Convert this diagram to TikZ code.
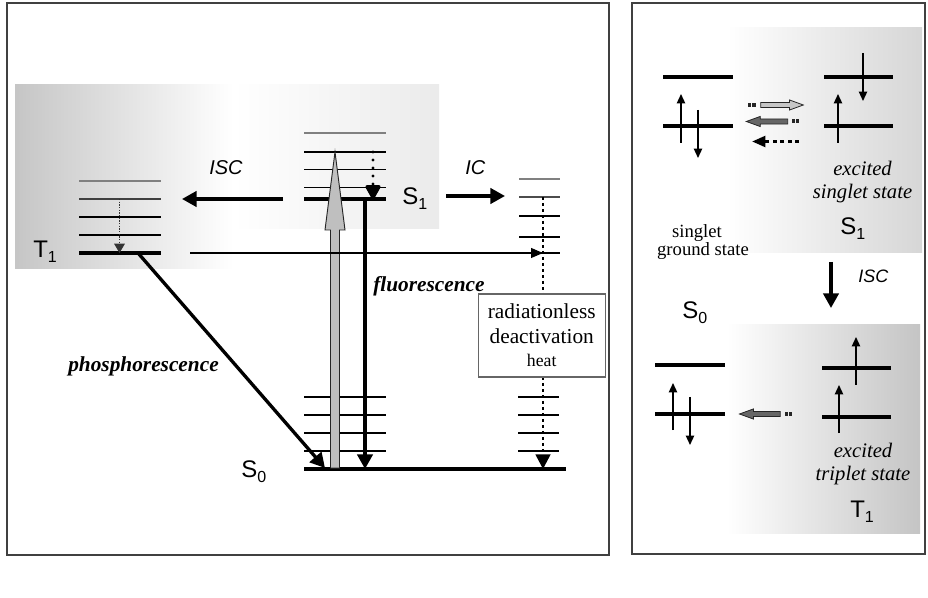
\documentclass[tikz,border=0pt]{standalone}
\usepackage{fontspec}
\setmainfont{Liberation Serif}
\setsansfont{Liberation Sans}
\usetikzlibrary{arrows.meta,shapes.arrows}
\newcommand{\lvsub}[1]{\raisebox{-3.75pt}{\fontsize{12}{12}\selectfont #1}}
\begin{document}
\begin{tikzpicture}[x=0.75pt,y=-0.75pt,
 lvthick/.style={line width=2.7pt},
 lvthin/.style={line width=0.8pt},
 lvgray/.style={line width=0.9pt,draw=gray},
 orb/.style={line width=2.8pt},
 frame/.style={line width=1pt,draw=black!75},
 bigarr/.style={line width=2.5pt,-{Triangle[length=11pt,width=11.5pt]}},
 thinarr/.style={line width=0.8pt,-{Triangle[length=9pt,width=7.5pt]}},
 spin/.style={line width=1.1pt,-{Triangle[length=7pt,width=6.2pt]}},
 lvlabel/.style={font=\sffamily\fontsize{18}{20}\selectfont,inner sep=0pt,anchor=base west},
 proc/.style={font=\sffamily\itshape\fontsize{15}{17}\selectfont,inner sep=0pt,anchor=base west},
 emis/.style={font=\bfseries\itshape\fontsize{16}{18}\selectfont,inner sep=0pt,anchor=base west},
 desc/.style={font=\itshape\fontsize{15.5}{18}\selectfont,inner sep=0pt,anchor=base},
 descr/.style={font=\fontsize{14}{16}\selectfont,inner sep=0pt,anchor=base},
 midarr/.style={single arrow,draw=black!85,line width=0.6pt,inner sep=1.6pt,
   single arrow head extend=1.9pt,single arrow tip angle=40,minimum height=31pt},
 tailbit/.style={fill=black!85},
]
\useasboundingbox (0,0) rectangle (928,598);

% ---------- shadings ----------
\path[left color=gray!45,right color=white] (15,85) rectangle (233,269);
\path[left color=white,right color=gray!16] (233,85) rectangle (439,229);
\path[left color=white,right color=gray!32] (727,28) rectangle (922,253);
\path[left color=white,right color=gray!46] (727,325) rectangle (920,533);

% ---------- frames ----------
\draw[frame] (7,3) rectangle (609,555);
\draw[frame] (632,3) rectangle (925,554);

% ---------- left panel levels ----------
% T1 stack
\draw[lvgray] (79,181) -- (161,181);
\draw[lvthin,draw=black!75] (79,199) -- (161,199);
\draw[lvthin] (79,217) -- (161,217);
\draw[lvthin] (79,235) -- (161,235);
\draw[lvthick] (79,253) -- (161,253);
% S1 stack
\draw[lvgray] (304,133) -- (386,133);
\draw[lvthin] (304,152) -- (386,152);
\draw[lvthin] (304,169.5) -- (386,169.5);
\draw[lvthin] (304,187.5) -- (386,187.5);
\draw[lvthick] (304,199) -- (386,199);
% right (IC) stack
\draw[lvgray] (519,179) -- (560,179);
\draw[lvthin,draw=black!70] (519,197) -- (560,197);
\draw[lvthin] (519,216) -- (560,216);
\draw[lvthin] (519,237) -- (560,237);
\draw[lvthin] (519,253) -- (560,253);
% S0 stacks
\foreach \yy in {397,415,433,451}{
  \draw[lvthin] (304,\yy) -- (386,\yy);
  \draw[lvthin] (518,\yy) -- (559,\yy);
}
\draw[lvthick] (304,469) -- (566,469);

% ---------- left panel coordinates ----------
\coordinate (iscA) at (283,199);
\coordinate (iscB) at (182,199);
\coordinate (icA) at (446,196);
\coordinate (icB) at (505,196);
\coordinate (hzA) at (190,253);
\coordinate (hzB) at (543,253);
\coordinate (t1vA) at (119.5,199);
\coordinate (t1vB) at (119.5,253);
\coordinate (s1vA) at (373,152);
\coordinate (s1vB) at (373,199);
\coordinate (rdA) at (543,197);
\coordinate (rdB) at (543,469);
\coordinate (flA) at (365,199);
\coordinate (flB) at (365,469);
\coordinate (phA) at (138,253);
\coordinate (phB) at (325,468);
\coordinate (abT) at (335,152);

% ---------- left panel arrows ----------
\draw[bigarr] (iscA) -- (iscB);
\draw[bigarr] (icA) -- (icB);
\draw[line width=0.7pt,draw=black!80,dash pattern=on 1pt off 1pt,
  -{Triangle[length=7pt,width=8pt]}] (t1vA) -- (t1vB);
\draw[line width=2.6pt,dash pattern=on 0pt off 6pt,line cap=round,
  -{Triangle[length=12pt,width=12.5pt,round=false]}] (s1vA) -- (s1vB);
\draw[line width=2pt,dash pattern=on 2.2pt off 2.3pt,
  -{Triangle[length=11pt,width=11pt]}] (rdA) -- (rdB);
\draw[bigarr] (flA) -- (flB);
\draw[bigarr] (phA) -- (phB);
% absorption (grey) arrow
\draw[fill=gray!50,draw=black!85,line width=0.7pt]
  (330.5,468) -- (330.5,230) -- (325,230) -- (abT) -- (345,230)
  -- (339.5,230) -- (339.5,468) -- cycle;
\draw[thinarr] (hzA) -- (hzB);

% ---------- left panel labels ----------
\node[lvlabel] (lT1) at (33,258) {T\lvsub{1}};
\node[lvlabel] (lS1) at (402,205) {S\lvsub{1}};
\node[lvlabel] (lS0) at (241,477) {S\lvsub{0}};
\node[proc] (lISC) at (209,175) {ISC};
\node[proc] (lIC) at (465,175) {IC};
\node[emis] (lfl) at (373,292) {fluorescence};
\node[emis] (lph) at (68,372) {phosphorescence};
\node[draw=black!60,line width=0.8pt,fill=white,minimum width=95.25pt,minimum height=62.25pt,
  align=center,inner sep=0pt,font=\fontsize{16}{18.75}\selectfont] (rbox) at (541.75,335.5)
  {radiationless\\deactivation\\[-1.5pt]{\fontsize{13.3}{14}\selectfont heat}};

% ---------- right panel ----------
% orbital levels
\draw[orb] (663,77) -- (733,77);
\draw[orb] (663,126) -- (733,126);
\draw[orb] (824,77) -- (893,77);
\draw[orb] (824,126) -- (893,126);
\draw[orb] (655,365) -- (725,365);
\draw[orb] (655,414) -- (725,414);
\draw[orb] (822,368) -- (891,368);
\draw[orb] (822,417) -- (891,417);

% spin coordinates
\coordinate (g1a) at (681,143);  \coordinate (g1b) at (681,94);
\coordinate (g2a) at (698,110);  \coordinate (g2b) at (698,158);
\coordinate (e1a) at (838,143);  \coordinate (e1b) at (838,94);
\coordinate (e2a) at (863,53);   \coordinate (e2b) at (863,101);
\coordinate (h1a) at (673,430);  \coordinate (h1b) at (673,383);
\coordinate (h2a) at (690,397);  \coordinate (h2b) at (690,445);
\coordinate (t1a) at (856,385);  \coordinate (t1b) at (856,337);
\coordinate (t2a) at (839,433);  \coordinate (t2b) at (839,385);
\draw[spin] (g1a) -- (g1b);
\draw[spin] (g2a) -- (g2b);
\draw[spin] (e1a) -- (e1b);
\draw[spin] (e2a) -- (e2b);
\draw[spin] (h1a) -- (h1b);
\draw[spin] (h2a) -- (h2b);
\draw[spin] (t1a) -- (t1b);
\draw[spin] (t2a) -- (t2b);

% middle arrows
\node[midarr,fill=gray!45,minimum height=32pt] (mA) at (778.5,105) {};
\fill[tailbit] (748,103) rectangle (750.5,107);
\fill[tailbit] (751.8,103) rectangle (756,107);
\node[midarr,fill=black!60,shape border rotate=180,minimum height=31pt] (mB) at (770.5,121.5) {};
\fill[tailbit] (792,119.5) rectangle (794.5,123.5);
\fill[tailbit] (795.8,119.5) rectangle (799,123.5);
\coordinate (mCa) at (799,141.5);
\coordinate (mCb) at (752,141.5);
\draw[line width=2.2pt,dash pattern=on 3pt off 2.6pt,
  -{Triangle[length=10pt,width=8pt]}] (mCa) -- (mCb);
\node[midarr,fill=black!60,shape border rotate=180,minimum height=30.5pt] (mD) at (763.3,414) {};
\fill[tailbit] (784.5,412) rectangle (787.5,416);
\fill[tailbit] (789,412) rectangle (792,416);

% ISC arrow right
\coordinate (riA) at (831,262);
\coordinate (riB) at (831,308);
\draw[bigarr] (riA) -- (riB);
\node[proc,font=\sffamily\itshape\fontsize{13.5}{15}\selectfont] (rISC) at (858,283) {ISC};

% right labels
\node[desc] (tx1) at (862.5,176) {excited};
\node[desc] (tx2) at (862.5,199) {singlet state};
\node[lvlabel] (rS1) at (840,235) {S\lvsub{1}};
\node[descr] (tx3) at (697,238) {singlet};
\node[descr] (tx4) at (703,256) {ground state};
\node[lvlabel] (rS0) at (682,319) {S\lvsub{0}};
\node[desc] (tx5) at (863,457) {excited};
\node[desc] (tx6) at (863,480) {triplet state};
\node[lvlabel] (rT1) at (850,517) {T\lvsub{1}};
\end{tikzpicture}
\end{document}
